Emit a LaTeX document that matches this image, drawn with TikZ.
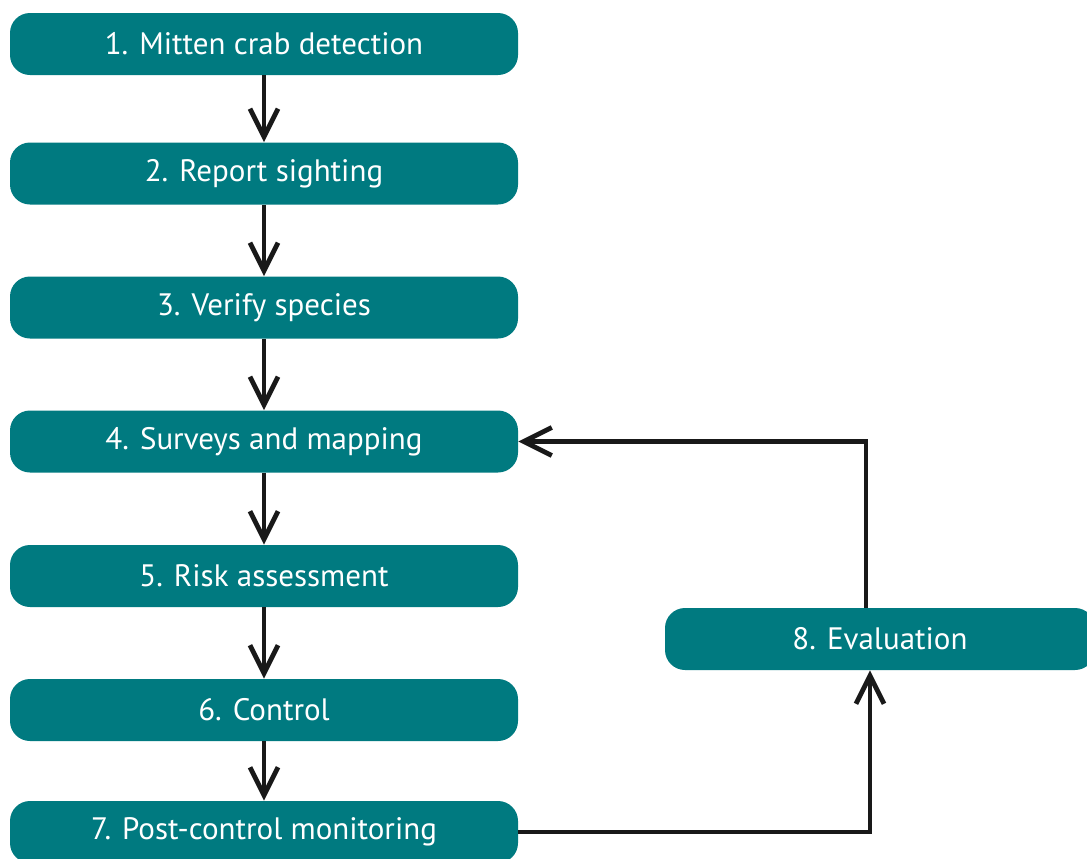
\documentclass[tikz,border=0pt]{standalone}
\usepackage{fontspec}
\setmainfont{PT Sans}
\usetikzlibrary{arrows.meta}
\definecolor{crabteal}{RGB}{0,122,128}
\tikzset{
  stage/.style={shape=rectangle, rounded corners=10pt, fill=crabteal, text=white,
    minimum height=31pt, inner sep=0pt, font=\fontsize{15.5}{17}\selectfont},
  flow/.style={-{Straight Barb[length=14pt,width=14pt,line width=2.4pt]}, line width=2.3pt, draw=black!90}
}
\begin{document}
\begin{tikzpicture}[x=0.5pt, y=-0.5pt]
\useasboundingbox (0,0) rectangle (1087,858);
\clip (0,0) rectangle (1087,858);
\node[stage, minimum width=254pt] (1) at (264,44) {1. Mitten crab detection};
\node[stage, minimum width=254pt] (2) at (264,173.5) {2. Report sighting};
\node[stage, minimum width=254pt] (3) at (264,307.5) {3. Verify species};
\node[stage, minimum width=254pt] (4) at (264,441.5) {4. Surveys and mapping};
\node[stage, minimum width=254pt] (5) at (264,576) {5. Risk assessment};
\node[stage, minimum width=254pt] (6) at (264,710) {6. Control};
\node[stage, minimum width=254pt] (7) at (264,832) {7. Post-control monitoring};
\node[stage, minimum width=215pt] (8) at (880,639) {8. Evaluation};
\path [flow] (1) edge (2);
\path [flow] (2) edge (3);
\path [flow] (3) edge (4);
\path [flow] (4) edge (5);
\path [flow] (5) edge (6);
\path [flow] (6) edge (7);
\draw [flow] (7.east) -| ([xshift=-5pt]8.south);
\draw [flow] ([xshift=-7pt]8.north) |- (4.east);
\end{tikzpicture}
\end{document}
